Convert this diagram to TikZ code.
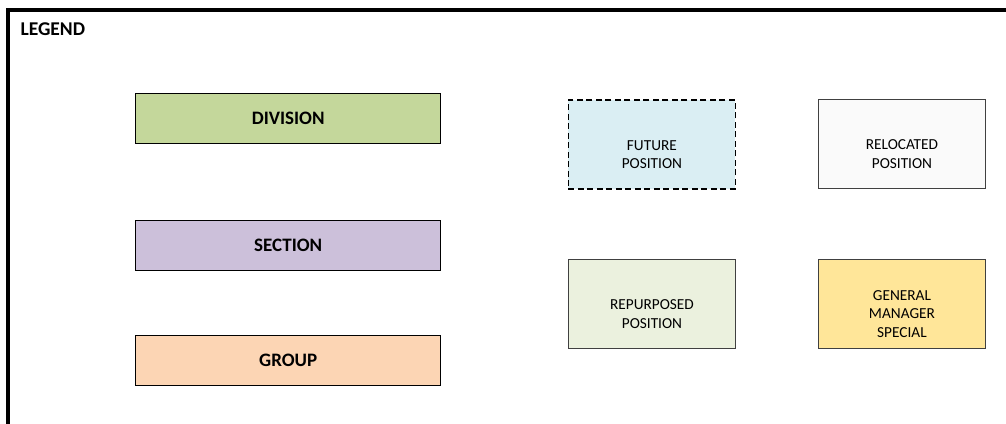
\documentclass[tikz,border=0pt]{standalone}
\usepackage{fontspec}
\setmainfont{Carlito}
\begin{document}
\begin{tikzpicture}[x=1pt,y=-1pt,
  levelbox/.style={draw=black,line width=1.4pt,anchor=north west,inner sep=0pt,
    minimum width=305pt,minimum height=50pt,font=\fontsize{19}{22}\selectfont\bfseries},
  posbox/.style={draw=black!75,line width=0.9pt,anchor=north west,inner sep=0pt,
    minimum width=167pt,minimum height=89pt},
  postext/.style={align=center,yshift=-10pt,inner sep=0pt,
    font=\fontsize{15.3}{18.5}\selectfont}]
  \useasboundingbox (0,0) rectangle (1006,423);
  % open frame
  \draw[line width=4pt] (8,425) -- (8,10) -- (1008,10);
  \node[anchor=west,font=\fontsize{19.5}{22}\selectfont\bfseries] (legend) at (17,29.5) {LEGEND};
  % organisational levels
  \node[levelbox,fill={rgb,255:red,196;green,215;blue,155}] (division) at (135,93) {DIVISION};
  \node[levelbox,fill={rgb,255:red,204;green,192;blue,218}] (section) at (135,220) {SECTION};
  \node[levelbox,fill={rgb,255:red,252;green,213;blue,180}] (group) at (135,335) {GROUP};
  % position types
  \node[posbox,draw=black,dashed,dash pattern=on 6pt off 3.5pt,line width=1.8pt,
    fill={rgb,255:red,218;green,238;blue,243},
    label={[postext]center:{FUTURE\\POSITION}}] (future) at (567.5,99) {};
  \node[posbox,fill={rgb,255:red,250;green,250;blue,250},
    label={[postext]center:{RELOCATED\\POSITION}}] (relocated) at (818,99) {};
  \node[posbox,fill={rgb,255:red,235;green,241;blue,222},
    label={[postext]center:{REPURPOSED\\POSITION}}] (repurposed) at (568,259) {};
  \node[posbox,fill={rgb,255:red,255;green,230;blue,153},
    label={[postext]center:{GENERAL\\MANAGER\\SPECIAL}}] (gm) at (818,259) {};
\end{tikzpicture}
\end{document}
